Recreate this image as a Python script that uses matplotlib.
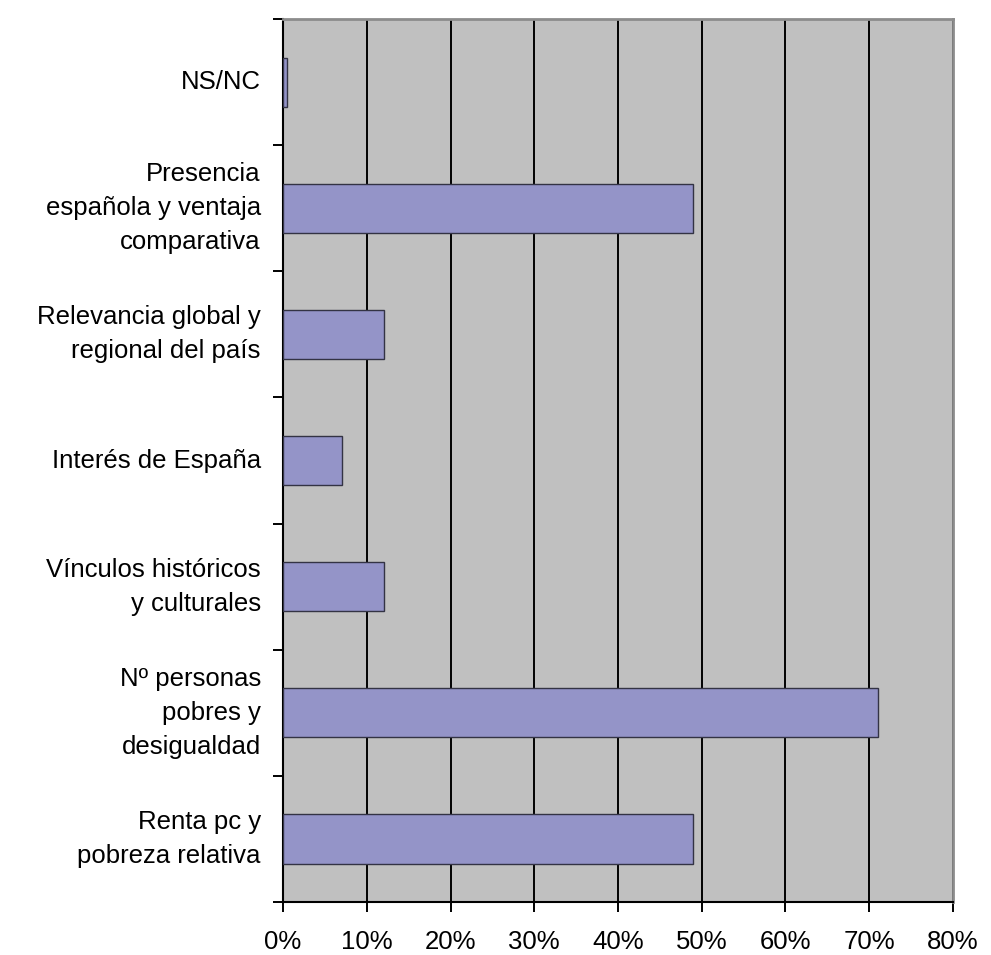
import numpy as np
import matplotlib.pyplot as plt


# Categories from bottom to top, as they appear in the chart
categories = [
    "Renta pc y\npobreza relativa",
    "Nº personas\npobres y\ndesigualdad",
    "Vínculos históricos\ny culturales",
    "Interés de España",
    "Relevancia global y\nregional del país",
    "Presencia\nespañola y ventaja\ncomparativa",
    "NS/NC",
]
values = [49, 71, 12, 7, 12, 49, 0.5]  # percent
x_ticks = [0, 10, 20, 30, 40, 50, 60, 70, 80]
x_labels = [f"{t}%" for t in x_ticks]

BAR_COLOR = "#9494c8"
BG_COLOR = "#c0c0c0"

plt.rcParams["font.family"] = ["Liberation Sans", "DejaVu Sans"]

fig = plt.figure(figsize=(9.91, 9.55), dpi=100)
fig.patch.set_facecolor("white")
ax = fig.add_axes([0.2856, 0.0555, 0.676, 0.9245])
ax.set_facecolor(BG_COLOR)

y = np.arange(len(categories))
ax.barh(y, values, height=0.39, color=BAR_COLOR, edgecolor="#333344",
        linewidth=1.0, zorder=3)

ax.set_xlim(0, 80)
ax.set_ylim(-0.5, len(categories) - 0.5)

# vertical gridlines every 10%
ax.set_xticks(x_ticks)
ax.set_xticklabels(x_labels, fontsize=18.5)
ax.grid(axis="x", color="black", linewidth=1.4, zorder=1)
ax.set_axisbelow(True)
ax.tick_params(axis="x", direction="out", length=7, width=1.4, pad=13)

# category boundaries get the tick marks, centers get the labels
ax.set_yticks(np.arange(-0.5, len(categories), 1.0))
ax.set_yticklabels([])
ax.set_yticks(y, minor=True)
ax.set_yticklabels(categories, minor=True, fontsize=18.5, linespacing=1.52,
                   ha="right", va="center")
ax.tick_params(axis="y", which="major", direction="out", length=7, width=1.4)
ax.tick_params(axis="y", which="minor", length=0, pad=16)

for side in ("left", "bottom"):
    ax.spines[side].set_color("black")
    ax.spines[side].set_linewidth(1.5)
for side in ("top", "right"):
    ax.spines[side].set_color("#8c8c8c")
    ax.spines[side].set_linewidth(2.0)

fig.savefig("out.png", dpi=100)
